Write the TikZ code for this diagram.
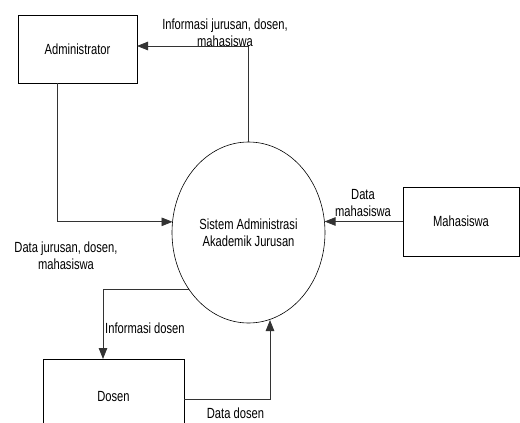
\documentclass[tikz,border=0pt]{standalone}
\usepackage{fontspec}
\setmainfont[FakeStretch=0.76]{Liberation Sans}
\usetikzlibrary{arrows.meta,shapes.geometric}
\begin{document}
\begin{tikzpicture}[x=1pt,y=-1pt,
  every node/.style={font=\fontsize{14.7}{17}\selectfont},
  entity/.style={draw=black,line width=0.8pt,rectangle,inner sep=0pt,outer sep=0pt},
  proc/.style={draw=black,line width=0.6pt,ellipse,inner sep=0pt,outer sep=0pt,minimum width=153,minimum height=181,align=center},
  lbl/.style={align=center,inner sep=0pt},
  flow/.style={draw=black!80,line width=0.8pt,-{Triangle[length=11pt,width=8.5pt]}}]
\useasboundingbox (0,0) rectangle (520,423);
\node[entity,minimum width=119,minimum height=68] (admin) at (77.5,49) {Administrator};
\node[proc] (sys) at (248.5,232.5) {Sistem Administrasi\\Akademik Jurusan};
\node[entity,minimum width=116,minimum height=69] (mhs) at (461,221.5) {Mahasiswa};
\node[entity,minimum width=141,minimum height=75] (dosen) at (113.5,396.5) {Dosen};
\node[lbl] (l1) at (225,32.5) {Informasi jurusan, dosen,\\mahasiswa};
\node[lbl] (l2) at (66,256) {Data jurusan, dosen,\\mahasiswa};
\node[lbl] (l3) at (363,203) {Data\\mahasiswa};
\node[lbl,anchor=west] (l4) at (105,328) {Informasi dosen};
\node[lbl] (l5) at (235.5,413) {Data dosen};
\draw[flow] (sys.north) |- ([yshift=3]admin.east);
\draw[flow] ([xshift=-20.5]admin.south) |- (sys.172.9);
\draw[flow] (mhs.west) -- (sys.7.9 |- mhs.west);
\draw[flow] (sys.224.2) -| ([xshift=-10.5]dosen.north);
\draw[flow] ([yshift=-3]dosen.east) -| ([xshift=21.5,yshift=3]sys.south);
\end{tikzpicture}
\end{document}
